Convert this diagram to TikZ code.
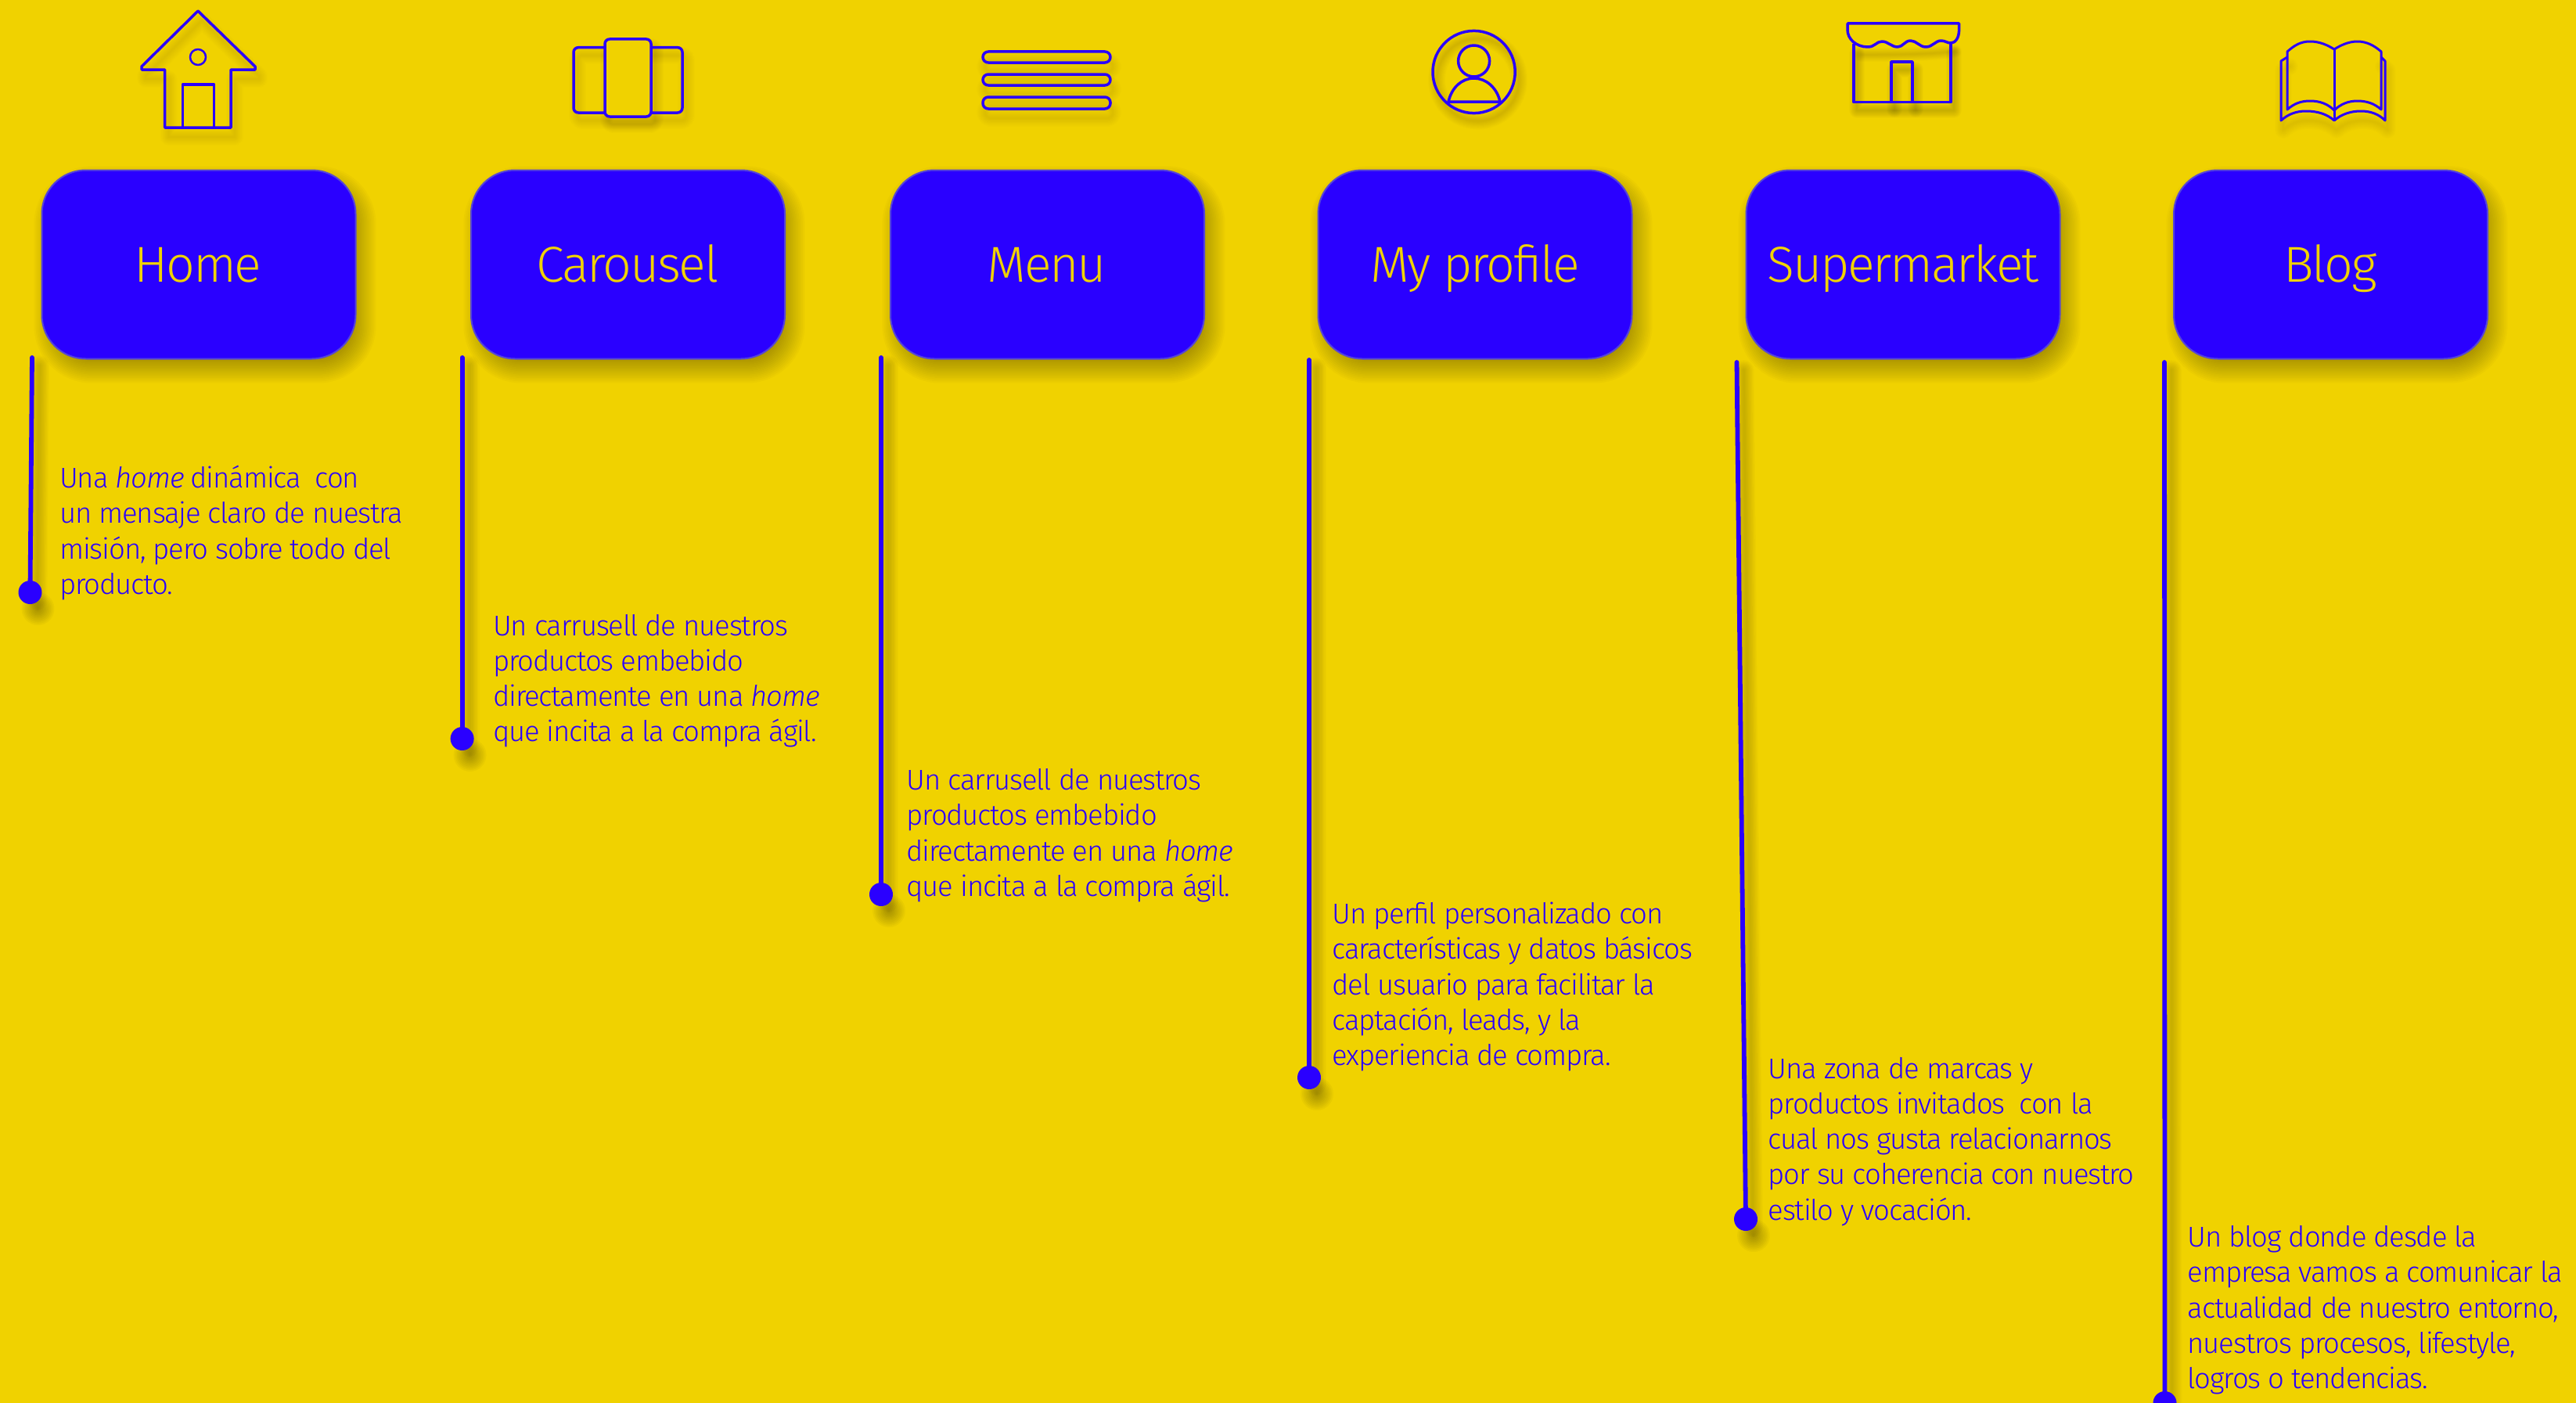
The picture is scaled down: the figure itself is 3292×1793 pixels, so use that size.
\documentclass[tikz,border=0pt]{standalone}
\usepackage{fontspec}
\setmainfont{Fira Sans}[UprightFont=* Light,ItalicFont=* Light Italic]
\definecolor{bgyellow}{HTML}{F0D200}
\definecolor{inkblue}{HTML}{2A00FF}
\definecolor{rimblue}{HTML}{5544D8}
\newcommand{\softshadow}[5]{% dx, dy, blur width, total opacity, path
  \foreach \k in {1,...,10}{
    \pgfmathsetmacro{\wd}{#3*\k/10}
    \pgfmathsetmacro{\op}{#4/10}
    \draw[black,line width=\wd pt,opacity=\op,line join=round,line cap=round,shift={(#1,#2)}] #5;
  }}
% box shadow: x0,y0,x1,y1 of the box
\newcommand{\softbox}[4]{%
  \foreach \k in {-8,...,8}{
    \pgfmathsetmacro{\e}{\k*2.2}
    \pgfmathsetmacro{\rr}{56+\e}
    \fill[black,opacity=0.018,rounded corners=\rr pt,shift={(8,13)}] ({#1-\e},{#2-\e}) rectangle ({#3+\e},{#4+\e});
  }}
% dot shadow: centre
\newcommand{\softdot}[2]{%
  \foreach \k in {1,...,10}{
    \pgfmathsetmacro{\rr}{\k*2.1}
    \fill[black,opacity=0.03,shift={(10,21)}] (#1,#2) circle (\rr pt);
  }}
\newcommand{\notetext}[1]{\parbox[t]{560pt}{\fontsize{36.5}{45.3}\selectfont\addfontfeature{LetterSpace=-3.2}\raggedright #1}}
\tikzset{
  x=1pt,y=-1pt,
  titlebox/.style={rectangle,rounded corners=56pt,minimum width=401pt,minimum height=241pt,fill=inkblue,draw=rimblue,line width=2pt,inner sep=0pt},
  titletext/.style={anchor=base,text=bgyellow,font=\fontsize{64.5}{72}\selectfont\addfontfeature{LetterSpace=-3.5},inner sep=0pt},
  note/.style={anchor=base west,text=inkblue,inner sep=0pt},
  stem/.style={draw=inkblue,line width=5.8pt,line cap=round},
  enddot/.style={circle,fill=inkblue,minimum size=30pt,inner sep=0pt},
  iconline/.style={draw=inkblue,line width=3.5pt,line join=round},
}
\begin{document}
\begin{tikzpicture}
\useasboundingbox (0,0) rectangle (3292,1793);
\fill[bgyellow] (0,0) rectangle (3292,1793);

% box shadows
\softbox{53}{217}{455}{459}
\softbox{602}{217}{1003}{459}
\softbox{1137}{217}{1540}{459}
\softbox{1684}{217}{2086}{459}
\softbox{2231}{217}{2633}{459}
\softbox{2778}{217}{3179}{459}

% stem shadows
\softshadow{9}{10}{26}{0.16}{(41,457) -- (38.5,757)}
\softshadow{9}{10}{26}{0.16}{(590.6,457) -- (590.6,944)}
\softshadow{9}{10}{26}{0.16}{(1126,457) -- (1126,1143)}
\softshadow{9}{10}{26}{0.16}{(1673,460) -- (1673,1377)}
\softshadow{9}{10}{26}{0.16}{(2219.5,463) -- (2231,1558)}
\softshadow{9}{10}{26}{0.16}{(2766,463) -- (2766.5,1793)}
% dot shadows
\softdot{38.5}{757}
\softdot{590.6}{944}
\softdot{1126}{1143}
\softdot{1673}{1377}
\softdot{2231}{1558}
\softdot{2766.5}{1793}

% boxes
\node[titlebox] (homebox) at (254,338) {};
\node[titlebox] (carbox) at (802.5,338) {};
\node[titlebox] (menubox) at (1338.5,338) {};
\node[titlebox] (probox) at (1885,338) {};
\node[titlebox] (supbox) at (2432,338) {};
\node[titlebox] (blogbox) at (2978.5,338) {};
\node[titletext] (hometitle) at (253,360) {Home};
\node[titletext] (cartitle) at (802,360) {Carousel};
\node[titletext] (menutitle) at (1338,360) {Menu};
\node[titletext] (protitle) at (1885,360) {My profile};
\node[titletext] (suptitle) at (2432,360) {Supermarket};
\node[titletext] (blogtitle) at (2978,360) {Blog};

% stems and dots
\coordinate (hometop) at (41,457);
\coordinate (cartop) at (590.6,457);
\coordinate (menutop) at (1126,457);
\coordinate (protop) at (1673,460);
\coordinate (suptop) at (2219.5,463);
\coordinate (blogtop) at (2766,463);
\node[enddot] (homedot) at (38.5,757) {};
\node[enddot] (cardot) at (590.6,944) {};
\node[enddot] (menudot) at (1126,1143) {};
\node[enddot] (prodot) at (1673,1377) {};
\node[enddot] (supdot) at (2231,1558) {};
\node[enddot] (blogdot) at (2766.5,1793) {};
\draw[stem] (hometop) -- (homedot.center);
\draw[stem] (cartop) -- (cardot.center);
\draw[stem] (menutop) -- (menudot.center);
\draw[stem] (protop) -- (prodot.center);
\draw[stem] (suptop) -- (supdot.center);
\draw[stem] (blogtop) -- (blogdot.center);

% notes
\node[note] (homenote) at (76,623.5) {\notetext{Una \emph{home} dinámica\ \ con\\un mensaje claro de nuestra\\misión, pero sobre todo del\\producto.}};
\node[note] (carnote) at (630,812) {\notetext{Un carrusell de nuestros\\productos embebido\\directamente en una \emph{home}\\que incita a la compra ágil.}};
\node[note] (menunote) at (1158.5,1009.5) {\notetext{Un carrusell de nuestros\\productos embebido\\directamente en una \emph{home}\\que incita a la compra ágil.}};
\node[note] (pronote) at (1702.5,1180.5) {\notetext{Un perfil personalizado con\\características y datos básicos\\del usuario para facilitar la\\captación, leads, y la\\experiencia de compra.}};
\node[note] (supnote) at (2259.5,1378) {\notetext{Una zona de marcas y\\productos invitados\ \ con la\\cual nos gusta relacionarnos\\por su coherencia con nuestro\\estilo y vocación.}};
\node[note] (blognote) at (2795.5,1593.5) {\notetext{Un blog donde desde la\\empresa vamos a comunicar la\\actualidad de nuestro entorno,\\nuestros procesos, lifestyle,\\logros o tendencias.}};

% home icon
\def\homeicon{(253,14) -- (326,85) -- (326,89) -- (295,89) -- (295,163) -- (210.5,163) -- (210.5,89) -- (181,89) -- (181,85) -- cycle}
\softshadow{5}{12}{22}{0.09}{\homeicon}
\draw[iconline] \homeicon;
\draw[iconline] (233.6,163) -- (233.6,108) -- (273.6,108) -- (273.6,163);
\draw[iconline,line width=2.5pt] (253,73) circle (10pt);

% carousel icon
\def\caroicon{[rounded corners=6pt] (733,60.7) rectangle (872,144)}
\def\carocentre{[rounded corners=6pt] (773,50) rectangle (832,149)}
\softshadow{5}{10}{22}{0.09}{\caroicon}
\softshadow{5}{10}{22}{0.12}{\carocentre}
\draw[iconline] \caroicon;
\fill[bgyellow] (773,50) rectangle (832,149);
\draw[iconline] \carocentre;

% menu icon
\foreach \ya/\yb in {66/80,95/109,124/139}{
  \softshadow{3}{12}{22}{0.07}{[rounded corners=7pt] (1256,\ya) rectangle (1419,\yb)}
  \draw[iconline] [rounded corners=7pt] (1256,\ya) rectangle (1419,\yb);
}

% profile icon
\softshadow{5}{10}{22}{0.12}{(1883.6,92) circle (52.6pt)}
\draw[iconline] (1883.6,92) circle (52.6pt);
\draw[iconline] (1883.6,78) circle (20pt);
\draw[iconline] (1851,130) .. controls (1855,112) and (1868,100) .. (1883.6,100) .. controls (1899,100) and (1913,112) .. (1917,130) -- cycle;

% supermarket icon
\def\awning{(2361,30) -- (2503.6,30) -- (2503.6,38) .. controls (2503.6,48) and (2499,55) .. (2493,55) .. controls (2488,55) and (2486,52) .. (2480.6,52) .. controls (2473,52) and (2470,60) .. (2461,60) .. controls (2453,60) and (2449,52) .. (2441.6,52) .. controls (2434,52) and (2432,60) .. (2425,60) .. controls (2417,60) and (2413,53) .. (2405,53) .. controls (2398,53) and (2396,60) .. (2387,60) .. controls (2372,60) and (2361,50) .. (2361,38) -- cycle}
\softshadow{4}{10}{20}{0.14}{(2369,58) -- (2369,130.6) -- (2493,130.6) -- (2493,58)}
\softshadow{4}{10}{20}{0.14}{(2417,130) -- (2417,79) -- (2444,79) -- (2444,130)}
\softshadow{3}{10}{18}{0.10}{(2375,60) .. controls (2400,60) and (2470,60) .. (2495,55)}
\draw[iconline] (2369,56) -- (2369,130.6) -- (2493,130.6) -- (2493,56);
\draw[iconline] (2417,130.6) -- (2417,79) -- (2444,79) -- (2444,130.6);
\draw[iconline] \awning;

% book icon
\def\bookinner{(2983,63) .. controls (2975,58) and (2965,53) .. (2952,53) .. controls (2940,53) and (2932,58) .. (2923,66) -- (2923,140) .. controls (2932,132) and (2941,129) .. (2952,129) .. controls (2965,129) and (2975,133) .. (2983,141) .. controls (2991,133) and (3001,129) .. (3012.7,129) .. controls (3024,129) and (3034,132) .. (3043,140) -- (3043,66) .. controls (3034,58) and (3024,53) .. (3012.7,53) .. controls (3001,53) and (2991,58) .. (2983,63) -- cycle}
\def\bookouter{(2923,73) -- (2915,78) -- (2915,154) .. controls (2924,146) and (2934,142) .. (2947,142) .. controls (2962,142) and (2974,146) .. (2983,154) .. controls (2992,146) and (3004,142) .. (3017,142) .. controls (3030,142) and (3040,146) .. (3048,154) -- (3048,78) -- (3043,73)}
\softshadow{3}{12}{22}{0.08}{\bookouter}
\draw[iconline,line width=3pt] \bookouter;
\draw[iconline,line width=3pt] \bookinner;
\draw[iconline,line width=3pt] (2983,63) -- (2983,154);
\end{tikzpicture}
\end{document}
